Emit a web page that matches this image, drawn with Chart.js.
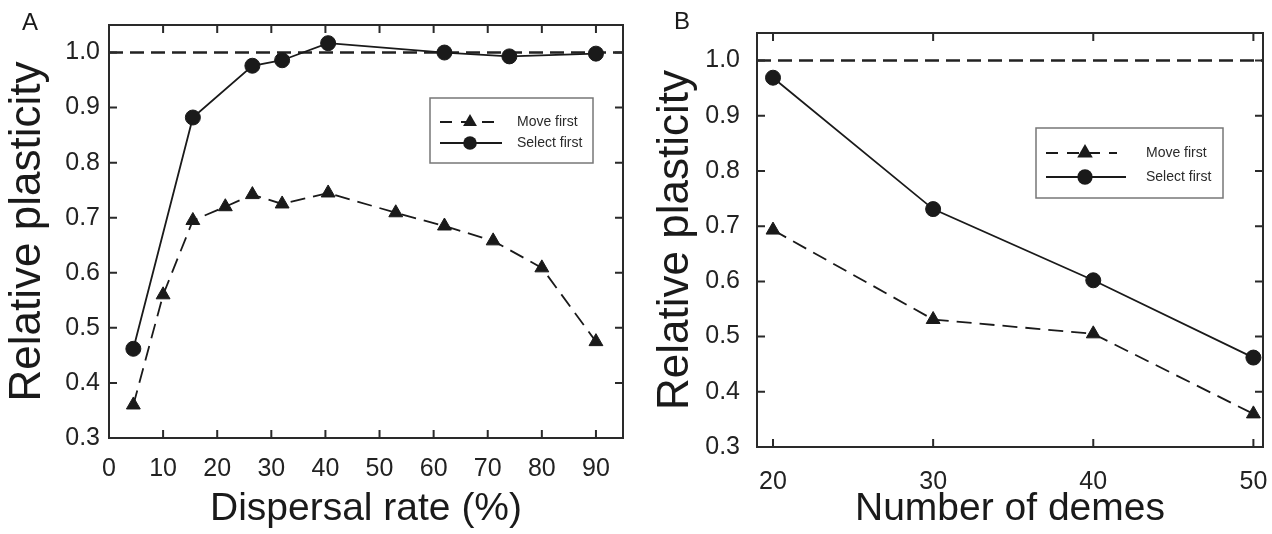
<!DOCTYPE html>
<html>
<head>
    <title>Relative plasticity - dispersal rate and number of demes</title>
    <meta charset="utf-8">
    <style>
        body {
            margin: 0;
            background-color: #fff;
        }
        .panel {
            position: absolute;
            top: 0;
            width: 636px;
            height: 534px;
        }
        #panelA { left: 0; }
        #panelB { left: 636px; }
    </style>
</head>
<body>
    <div class="panel" id="panelA"><canvas id="chartA" width="636" height="534"></canvas></div>
    <div class="panel" id="panelB"><canvas id="chartB" width="636" height="534"></canvas></div>

    <script src="https://cdn.jsdelivr.net/npm/chart.js"></script>
    <script>
        // Panel A - relative plasticity vs dispersal rate (%)
        const dispersalMove = [4.5, 10, 15.5, 21.5, 26.5, 32, 40.5, 53, 62, 71, 80, 90];
        const plasticityMoveA = [0.36, 0.56, 0.695, 0.72, 0.742, 0.725, 0.745, 0.709, 0.685, 0.658, 0.609, 0.475];
        const dispersalSelect = [4.5, 15.5, 26.5, 32, 40.5, 62, 74, 90];
        const plasticitySelectA = [0.462, 0.882, 0.976, 0.986, 1.017, 1.0, 0.993, 0.998];

        // Panel B - relative plasticity vs number of demes
        const demes = [20, 30, 40, 50];
        const plasticityMoveB = [0.693, 0.531, 0.505, 0.36];
        const plasticitySelectB = [0.969, 0.731, 0.602, 0.462];

        const seriesLabels = ["Move first", "Select first"];
        const referenceLevel = 1.0;

        const yTicks = [0.3, 0.4, 0.5, 0.6, 0.7, 0.8, 0.9, 1.0];
        const yRange = [0.3, 1.05];
        const xTicksA = [0, 10, 20, 30, 40, 50, 60, 70, 80, 90];
        const xRangeA = [0, 95];
        const xTicksB = [20, 30, 40, 50];
        const xRangeB = [19, 50.6];

        const FONT = '"Liberation Sans", Arial, Helvetica, sans-serif';
        const INK = "#1a1a1a";

        function toPoints(xs, ys) {
            return xs.map((x, i) => ({ x: x, y: ys[i] }));
        }

        function makeDatasets(moveX, moveY, selX, selY, xRange) {
            return [
                {
                    label: seriesLabels[0],
                    data: toPoints(moveX, moveY),
                    borderColor: INK,
                    borderWidth: 1.8,
                    borderDash: [15, 8],
                    pointStyle: "triangle",
                    pointRadius: 8,
                    pointBackgroundColor: INK,
                    pointBorderColor: INK,
                    pointBorderWidth: 1,
                },
                {
                    label: seriesLabels[1],
                    data: toPoints(selX, selY),
                    borderColor: INK,
                    borderWidth: 1.8,
                    pointStyle: "circle",
                    pointRadius: 7.5,
                    pointBackgroundColor: INK,
                    pointBorderColor: INK,
                    pointBorderWidth: 1,
                },
                {
                    label: "reference",
                    hideInLegend: true,
                    data: xRange.map(x => ({ x: x, y: referenceLevel })),
                    borderColor: "#222",
                    borderWidth: 2.5,
                    borderDash: [14, 7],
                    pointRadius: 0,
                },
            ];
        }

        // box around the plot with inward ticks on every side, plus panel letter
        const framePlugin = {
            id: "frame",
            afterDatasetsDraw(chart, args, opts) {
                const { ctx, chartArea: a, scales: { x, y } } = chart;
                const len = 8;
                ctx.save();
                ctx.strokeStyle = "#2a2a2a";
                ctx.lineWidth = 2;
                ctx.strokeRect(a.left, a.top, a.right - a.left, a.bottom - a.top);
                ctx.beginPath();
                x.ticks.forEach(t => {
                    const px = x.getPixelForValue(t.value);
                    if (px <= a.left + 2 || px >= a.right - 2) return;
                    ctx.moveTo(px, a.bottom); ctx.lineTo(px, a.bottom - len);
                    ctx.moveTo(px, a.top); ctx.lineTo(px, a.top + len);
                });
                y.ticks.forEach(t => {
                    const py = y.getPixelForValue(t.value);
                    if (py >= a.bottom - 2 || py <= a.top + 2) return;
                    ctx.moveTo(a.left, py); ctx.lineTo(a.left + len, py);
                    ctx.moveTo(a.right, py); ctx.lineTo(a.right - len, py);
                });
                ctx.stroke();

                ctx.fillStyle = INK;
                ctx.font = "24px " + FONT;
                ctx.textAlign = "center";
                ctx.textBaseline = "middle";
                ctx.fillText(opts.letter, opts.letterX, opts.letterY);
                ctx.restore();
            }
        };

        // legend in a framed box inside the plot area
        const boxLegendPlugin = {
            id: "boxLegend",
            afterDraw(chart, args, o) {
                const { ctx, chartArea: a } = chart;
                const bx = a.left + o.dx, by = a.top + o.dy;
                ctx.save();
                ctx.fillStyle = "#fff";
                ctx.fillRect(bx, by, o.w, o.h);
                ctx.strokeStyle = "#777";
                ctx.lineWidth = 1.5;
                ctx.strokeRect(bx, by, o.w, o.h);

                chart.data.datasets.filter(d => !d.hideInLegend).forEach((ds, i) => {
                    const ry = by + o.rows[i];
                    ctx.strokeStyle = ds.borderColor;
                    ctx.lineWidth = 2;
                    ctx.setLineDash(ds.borderDash ? [12, 9] : []);
                    ctx.beginPath();
                    ctx.moveTo(bx + o.lineFrom, ry);
                    ctx.lineTo(bx + (ds.borderDash ? o.dashTo : o.lineTo), ry);
                    ctx.stroke();
                    ctx.setLineDash([]);

                    const mx = bx + o.marker, r = o.markerRadius;
                    ctx.fillStyle = ds.pointBackgroundColor;
                    ctx.beginPath();
                    if (ds.pointStyle === "triangle") {
                        ctx.moveTo(mx, ry - r);
                        ctx.lineTo(mx + r * 0.866, ry + r * 0.5);
                        ctx.lineTo(mx - r * 0.866, ry + r * 0.5);
                        ctx.closePath();
                    } else {
                        ctx.arc(mx, ry, r * 0.85, 0, Math.PI * 2);
                    }
                    ctx.fill();

                    ctx.fillStyle = "#2a2a2a";
                    ctx.font = "14px " + FONT;
                    ctx.textAlign = "left";
                    ctx.textBaseline = "middle";
                    ctx.fillText(ds.label, bx + o.text, ry);
                });
                ctx.restore();
            }
        };

        function makeChart(canvasId, cfg) {
            const ctx = document.getElementById(canvasId).getContext("2d");
            return new Chart(ctx, {
                type: "line",
                data: { datasets: cfg.datasets },
                plugins: [framePlugin, boxLegendPlugin],
                options: {
                    responsive: false,
                    animation: false,
                    clip: false,
                    layout: { padding: cfg.padding },
                    plugins: {
                        legend: { display: false },
                        tooltip: { enabled: false },
                        frame: cfg.frame,
                        boxLegend: cfg.legend,
                    },
                    scales: {
                        x: {
                            type: "linear",
                            min: cfg.xRange[0],
                            max: cfg.xRange[1],
                            afterBuildTicks: s => { s.ticks = cfg.xTicks.map(v => ({ value: v })); },
                            afterFit: s => {
                                s.height = cfg.xAxisHeight;
                                s.paddingLeft = 0;
                                s.paddingRight = 0;
                            },
                            grid: { display: false, drawTicks: false },
                            border: { display: false },
                            ticks: {
                                padding: cfg.xTickPad,
                                autoSkip: false,
                                maxRotation: 0,
                                color: "#222",
                                font: { family: FONT, size: 25 },
                                callback: v => String(v),
                            },
                            title: {
                                display: true,
                                text: cfg.xTitle,
                                color: "#1a1a1a",
                                font: { family: FONT, size: 39 },
                                padding: { top: 0, bottom: 1 },
                            },
                        },
                        y: {
                            type: "linear",
                            min: yRange[0],
                            max: yRange[1],
                            afterBuildTicks: s => { s.ticks = yTicks.map(v => ({ value: v })); },
                            afterFit: s => {
                                s.width = cfg.yAxisWidth;
                                s.paddingTop = 0;
                                s.paddingBottom = 0;
                            },
                            grid: { display: false, drawTicks: false },
                            border: { display: false },
                            ticks: {
                                padding: cfg.yTickPad,
                                color: "#222",
                                font: { family: FONT, size: 25 },
                                callback: v => v.toFixed(1),
                            },
                            title: {
                                display: true,
                                text: "Relative plasticity",
                                color: "#1a1a1a",
                                font: { family: FONT, size: 44 },
                                padding: { top: cfg.yTitlePad, bottom: 0 },
                            },
                        },
                    },
                },
            });
        }

        makeChart("chartA", {
            datasets: makeDatasets(dispersalMove, plasticityMoveA, dispersalSelect, plasticitySelectA, xRangeA),
            xRange: xRangeA,
            xTicks: xTicksA,
            xTitle: "Dispersal rate (%)",
            padding: { left: 0, top: 25, right: 13, bottom: 0 },
            xAxisHeight: 96,
            yAxisWidth: 109,
            xTickPad: 16,
            yTickPad: 9,
            yTitlePad: 1,
            frame: { letter: "A", letterX: 30, letterY: 23 },
            legend: { dx: 321, dy: 73, w: 163, h: 65, rows: [24, 45], lineFrom: 10, lineTo: 72, dashTo: 65, marker: 40, markerRadius: 8, text: 87 },
        });

        makeChart("chartB", {
            datasets: makeDatasets(demes, plasticityMoveB, demes, plasticitySelectB, xRangeB),
            xRange: xRangeB,
            xTicks: xTicksB,
            xTitle: "Number of demes",
            padding: { left: 0, top: 33, right: 7, bottom: 0 },
            xAxisHeight: 87,
            yAxisWidth: 121,
            xTickPad: 20,
            yTickPad: 17,
            yTitlePad: 13,
            frame: { letter: "B", letterX: 46, letterY: 22 },
            legend: { dx: 279, dy: 95, w: 187, h: 70, rows: [25, 49], lineFrom: 10, lineTo: 90, dashTo: 81, marker: 49, markerRadius: 9, text: 110 },
        });
    </script>
</body>
</html>
